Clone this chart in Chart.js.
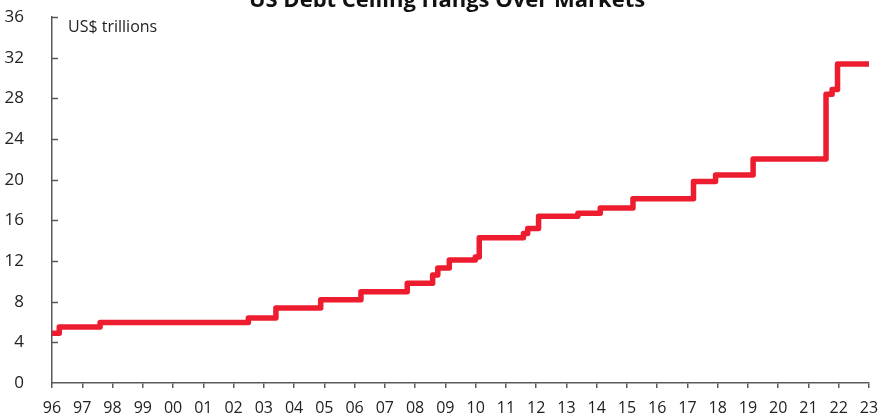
<!DOCTYPE html>
<html lang="en">
<head>
    <meta charset="UTF-8">
    <title>US Debt Ceiling Hangs Over Markets</title>
    <script src="https://cdn.jsdelivr.net/npm/chart.js@4.4.1/dist/chart.umd.min.js"></script>
    <style>
        * { margin: 0; padding: 0; box-sizing: border-box; }
        body { background: #fff; width: 892px; height: 417px; overflow: hidden; }
        .chart-box { position: relative; width: 892px; height: 417px; }
    </style>
</head>
<body>
    <div class="chart-box">
        <canvas id="debtChart" width="892" height="417"></canvas>
    </div>

    <script>
        // Debt limit changes (decimal year of change, new limit in US$ trillions)
        const changeDates = [1996.00, 1996.24, 1997.59, 2002.49, 2003.40, 2004.88, 2006.21, 2007.74,
            2008.58, 2008.75, 2009.13, 2009.99, 2010.12, 2011.58, 2011.72, 2012.08,
            2013.38, 2014.12, 2015.20, 2017.20, 2017.93, 2019.17, 2021.58, 2021.78,
            2021.96, 2023.00];
        const debtLimit = [4.9, 5.5, 5.95, 6.4, 7.384, 8.184, 8.965, 9.815,
            10.615, 11.315, 12.104, 12.394, 14.294, 14.694, 15.194, 16.394,
            16.699, 17.212, 18.113, 19.809, 20.456, 22.03, 28.401, 28.881,
            31.381, 31.381];
        const yearLabels = ['96', '97', '98', '99', '00', '01', '02', '03', '04', '05', '06', '07', '08', '09',
            '10', '11', '12', '13', '14', '15', '16', '17', '18', '19', '20', '21', '22', '23'];

        const FONT = "'Open Sans', 'Noto Sans', sans-serif";
        const AXIS = '#5a5a5a';

        // title (partly cut off at the top), unit label and inward y ticks
        const extras = {
            id: 'extras',
            afterDraw(chart) {
                const ctx = chart.ctx;
                const y = chart.scales.y;
                ctx.save();
                ctx.strokeStyle = AXIS;
                ctx.lineWidth = 1.5;
                y.ticks.forEach(t => {
                    if (t.value === 0) return;
                    const py = Math.round(y.getPixelForValue(t.value)) + 0.5;
                    ctx.beginPath();
                    ctx.moveTo(y.right, py);
                    ctx.lineTo(y.right + 6, py);
                    ctx.stroke();
                });
                ctx.fillStyle = '#111';
                ctx.font = "bold 22px " + FONT;
                ctx.textAlign = 'center';
                ctx.textBaseline = 'alphabetic';
                ctx.fillText('US Debt Ceiling Hangs Over Markets', 447, 7);
                ctx.fillStyle = '#222';
                ctx.font = "16px " + FONT;
                ctx.textAlign = 'left';
                ctx.textBaseline = 'middle';
                ctx.fillText('US$ trillions', 68, 27);
                ctx.restore();
            }
        };

        new Chart(document.getElementById('debtChart'), {
            type: 'line',
            data: {
                datasets: [{
                    data: changeDates.map((d, i) => ({ x: d, y: debtLimit[i] })),
                    stepped: true,
                    borderColor: '#ED1C2E',
                    borderWidth: 5.5,
                    borderCapStyle: 'round',
                    borderJoinStyle: 'round',
                    pointRadius: 0,
                    fill: false
                }]
            },
            options: {
                responsive: false,
                animation: false,
                devicePixelRatio: 1,
                layout: { padding: { top: 17, right: 23, left: 0, bottom: 0 } },
                plugins: {
                    legend: { display: false },
                    tooltip: { enabled: false }
                },
                scales: {
                    x: {
                        type: 'linear',
                        min: 1996,
                        max: 2023,
                        afterFit: s => {
                            s.height = 34;
                            s.paddingLeft = 0;
                            s.paddingRight = 0;
                        },
                        ticks: {
                            stepSize: 1,
                            autoSkip: false,
                            maxRotation: 0,
                            padding: 11,
                            color: '#222',
                            font: { family: FONT, size: 16 },
                            callback: v => yearLabels[Math.round(v - 1996)]
                        },
                        grid: { drawOnChartArea: false, drawTicks: true, tickLength: 5, color: AXIS, lineWidth: 1.5 },
                        border: { color: AXIS, width: 1.5 }
                    },
                    y: {
                        min: 0,
                        max: 36,
                        afterFit: s => {
                            s.width = 52;
                            s.paddingTop = 0;
                            s.paddingBottom = 0;
                        },
                        ticks: {
                            stepSize: 4,
                            padding: 20,
                            color: '#222',
                            font: { family: FONT, size: 17 }
                        },
                        grid: { display: false },
                        border: { color: AXIS, width: 1.5 }
                    }
                }
            },
            plugins: [extras]
        });
    </script>
</body>
</html>
